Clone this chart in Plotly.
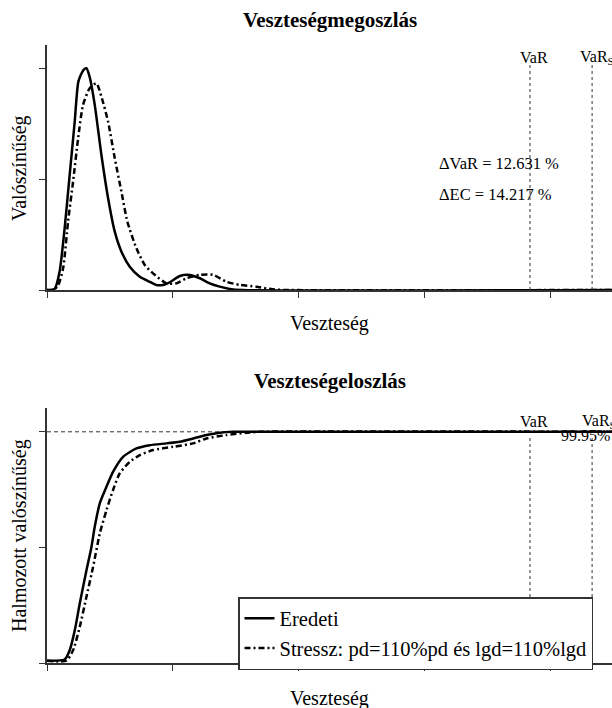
import plotly.graph_objects as go

# ---- data ----
pdf_base_x = [0, 0.061, 0.10, 0.14, 0.18, 0.22, 0.249, 0.289, 0.313, 0.339, 0.379, 0.432, 0.485, 0.538,
              0.591, 0.657, 0.736, 0.816, 0.87, 0.93, 0.975, 1.054, 1.133, 1.213, 1.292, 1.371, 1.45, 1.55, 4.485]
pdf_base_y = [0, 0.005, 0.083, 0.278, 0.519, 0.759, 0.94, 0.992, 1.0, 0.96, 0.835, 0.609, 0.414, 0.263,
              0.173, 0.105, 0.06, 0.037, 0.022, 0.024, 0.035, 0.063, 0.068, 0.053, 0.030, 0.015, 0.005, 0, 0]

pdf_stress_x = [0, 0.05, 0.088, 0.128, 0.167, 0.207, 0.247, 0.286, 0.339, 0.392, 0.432, 0.485, 0.538, 0.591,
                0.638, 0.71, 0.776, 0.842, 0.948, 1.027, 1.107, 1.213, 1.318, 1.424, 1.53, 1.66, 1.79, 1.9, 4.485]
pdf_stress_y = [0, 0, 0.02, 0.098, 0.308, 0.489, 0.684, 0.835, 0.91, 0.932, 0.872, 0.759, 0.594, 0.443,
                0.308, 0.188, 0.113, 0.075, 0.03, 0.03, 0.053, 0.068, 0.068, 0.037, 0.023, 0.015, 0.003, 0, 0]

cdf_base_x = [0, 0.14, 0.18, 0.22, 0.26, 0.313, 0.353, 0.379, 0.419, 0.472, 0.524, 0.604, 0.71, 0.816,
              0.948, 1.054, 1.16, 1.266, 1.371, 1.477, 4.485]
cdf_base_y = [0.01, 0.015, 0.055, 0.14, 0.257, 0.40, 0.502, 0.589, 0.69, 0.762, 0.827, 0.892, 0.928, 0.942,
              0.950, 0.957, 0.971, 0.986, 0.996, 1.0, 1.0]

cdf_stress_x = [0, 0.154, 0.207, 0.26, 0.313, 0.366, 0.419, 0.472, 0.524, 0.577, 0.657, 0.736, 0.842, 1.0,
                1.16, 1.266, 1.424, 1.584, 1.69, 4.485]
cdf_stress_y = [0.01, 0.01, 0.055, 0.156, 0.286, 0.416, 0.56, 0.661, 0.748, 0.82, 0.87, 0.899, 0.921, 0.935,
                0.95, 0.971, 0.986, 0.996, 1.0, 1.0]

var_base = 3.834
var_stress = 4.327
conf_level = 1.0
x_max = 4.485

series_names = ["Eredeti", "Stressz: pd=110%pd és lgd=110%lgd"]
titles = ["Veszteségmegoszlás", "Veszteségeloszlás"]
x_label = "Veszteség"
y_labels = ["Valószínűség", "Halmozott valószínűség"]
delta_texts = ["ΔVaR = 12.631 %", "ΔEC = 14.217 %"]
conf_text = "99.95%"

FONT = "Liberation Serif"
STRESS_DASH = "6px,3px,2px,3px"

fig = go.Figure()

# top panel
fig.add_trace(go.Scatter(x=pdf_stress_x, y=pdf_stress_y, mode="lines", line=dict(color="black", width=2.5, dash=STRESS_DASH, shape="spline", smoothing=0.6), showlegend=False, xaxis="x", yaxis="y"))
fig.add_trace(go.Scatter(x=pdf_base_x, y=pdf_base_y, mode="lines", line=dict(color="black", width=2.5, shape="spline", smoothing=0.6), showlegend=False, xaxis="x", yaxis="y"))
for v in [var_base, var_stress]:
    fig.add_trace(go.Scatter(x=[v, v], y=[0, 1.025], mode="lines", line=dict(color="#333", width=1, dash="3px,3px"), showlegend=False, xaxis="x", yaxis="y"))

# bottom panel
fig.add_trace(go.Scatter(x=[0, x_max], y=[conf_level, conf_level], mode="lines", line=dict(color="#333", width=1, dash="4px,3px"), showlegend=False, xaxis="x2", yaxis="y2"))
for v in [var_base, var_stress]:
    fig.add_trace(go.Scatter(x=[v, v], y=[0, 0.975], mode="lines", line=dict(color="#333", width=1, dash="3px,3px"), showlegend=False, xaxis="x2", yaxis="y2"))
fig.add_trace(go.Scatter(x=cdf_base_x, y=cdf_base_y, mode="lines", name=series_names[0], line=dict(color="black", width=2.5, shape="spline", smoothing=0.6), xaxis="x2", yaxis="y2"))
fig.add_trace(go.Scatter(x=cdf_stress_x, y=cdf_stress_y, mode="lines", name=series_names[1], line=dict(color="black", width=2.5, dash=STRESS_DASH, shape="spline", smoothing=0.6), xaxis="x2", yaxis="y2"))

W, H = 612, 708
L = 47
def py(px):
    return 1 - px / H

def pxx(px):
    return (px - L) / (W - L)

axis_common = dict(showline=True, linecolor="#333", linewidth=1.5, ticks="outside", ticklen=6, tickwidth=1.2,
                   tickcolor="#333", showticklabels=False, showgrid=False, zeroline=False)

fig.update_layout(
    width=W, height=H,
    margin=dict(l=L, r=0, t=0, b=0),
    paper_bgcolor="white", plot_bgcolor="white",
    font=dict(family=FONT, color="black"),
    xaxis=dict(domain=[0, 1], range=[0, x_max], dtick=1, anchor="y", **axis_common),
    yaxis=dict(domain=[py(290), py(45)], range=[0, 1.105], dtick=0.5, anchor="x", **axis_common),
    xaxis2=dict(domain=[0, 1], range=[0, x_max], dtick=1, anchor="y2", **axis_common),
    yaxis2=dict(domain=[py(663), py(408)], range=[0, 1.103], dtick=0.5, anchor="x2", **axis_common),
    legend=dict(x=pxx(238), y=py(597), xanchor="left", yanchor="top",
                bordercolor="#333", borderwidth=1.5, bgcolor="white",
                font=dict(family=FONT, size=20.5), tracegroupgap=0, itemwidth=30),
    showlegend=True,
)

def A(**kw):
    d = dict(showarrow=False, xanchor="center", yanchor="middle")
    d.update(kw)
    return d

ann = [
    A(text="<b>" + titles[0] + "</b>", xref="paper", yref="paper", x=0.5, y=py(20), font=dict(size=21)),
    A(text="<b>" + titles[1] + "</b>", xref="paper", yref="paper", x=0.5, y=py(381), font=dict(size=21)),
    A(text=x_label, xref="paper", yref="paper", x=0.5, y=py(323), font=dict(size=20)),
    A(text=x_label, xref="paper", yref="paper", x=0.5, y=py(698), font=dict(size=20)),
    A(text=y_labels[0], xref="paper", yref="paper", x=pxx(19), y=py(168), textangle=-90, font=dict(size=20)),
    A(text=y_labels[1], xref="paper", yref="paper", x=pxx(19), y=py(536), textangle=-90, font=dict(size=20)),
    A(text=delta_texts[0], xref="x", yref="y", x=(437 - L) / 125.9, y=(290 - 164) / 221.7, xanchor="left", font=dict(size=16.5)),
    A(text=delta_texts[1], xref="x", yref="y", x=(437 - L) / 125.9, y=(290 - 195) / 221.7, xanchor="left", font=dict(size=16.5)),
    A(text="VaR", xref="x", yref="y", x=var_base, y=1.05, xanchor="left", xshift=-12, font=dict(size=16)),
    A(text="VaR<sub>S</sub>", xref="x", yref="y", x=var_stress, y=1.05, xanchor="left", xshift=-14, font=dict(size=16)),
    A(text="VaR", xref="x2", yref="y2", x=var_base, y=1.043, xanchor="left", xshift=-12, font=dict(size=16)),
    A(text="VaR<sub>S</sub>", xref="x2", yref="y2", x=var_stress, y=1.043, xanchor="left", xshift=-12, font=dict(size=16)),
    A(text=conf_text, xref="x2", yref="y2", x=x_max, y=0.985, xanchor="right", font=dict(size=16)),
]
fig.update_layout(annotations=ann)

fig.write_html("out.html", config={"displayModeBar": False},
               post_script="document.body.style.margin='0px';")
